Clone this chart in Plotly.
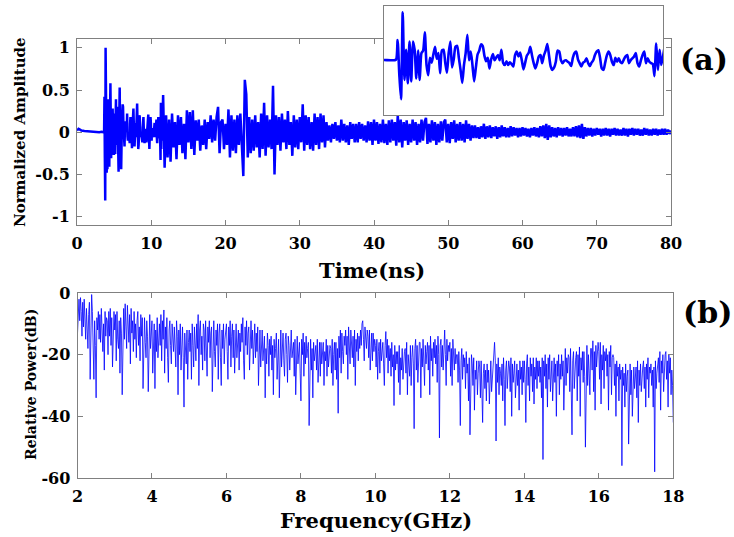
import numpy as np
import plotly.graph_objects as go

# ---------------- (a) time-domain waveform ----------------
# quiet lead-in before the pulse arrives
onset_t = [0.0, 0.2, 0.4, 0.6, 1.0, 1.5, 2.0, 2.5, 3.0, 3.3, 3.5, 3.65]
onset_v = [0.02, 0.04, 0.03, 0.02, 0.015, 0.01, 0.01, 0.005, 0.0, 0.005, 0.0, 0.01]

# main burst, sampled every 0.05 ns from 3.70 ns
burst_t0, burst_dt = 3.70, 0.05
burst_v = [
    0.42, -0.3, -0.81, 1.0, -0.41, 0.22, -0.48, 0.39, -0.44, 0.39,
    0.22, -0.38, 0.2, -0.41, 0.15, 0.2, 0.58, -0.1, -0.31, 0.05,
    -0.05, 0.12, 0.28, 0.03, 0.15, -0.27, 0.2, 0.22, -0.05, -0.26,
    0.15, 0.39, -0.15, 0.02, 0.28, 0.3, 0.05, -0.2, -0.47, -0.1,
    0.15, 0.53, 0.0, 0.18, -0.1, -0.44, -0.15, 0.12, 0.2, 0.33,
    0.3, 0.1, -0.02, 0.05, -0.17, 0.02, 0.13, 0.0, 0.06, 0.11,
    0.0, 0.22, -0.05, -0.1, -0.02, -0.1, -0.04, -0.08, -0.13, 0.1,
    0.18, 0.08, 0.16, 0.0, -0.19, -0.05, 0.1, 0.15, 0.28, 0.1,
    -0.06, -0.17, -0.06, 0.08, 0.11, -0.06, 0.1, 0.2, 0.34, 0.1,
    -0.13, -0.2, -0.15, -0.03, 0.2, 0.18, 0.0, -0.06, -0.01, 0.0,
    -0.03, -0.06, -0.12, 0.05, 0.15, 0.18, 0.02, -0.06, -0.13, -0.05,
    -0.03, 0.04, -0.06, -0.12, -0.05, 0.0, 0.11, 0.18, 0.21, 0.05,
    -0.17, -0.2, -0.05, 0.1, 0.18, 0.11, -0.03, -0.1, 0.05, -0.03,
    0.04, -0.04, -0.06, 0.02, 0.08, 0.11, -0.06, 0.0, 0.04, 0.08,
    0.15, -0.06, -0.13, 0.0, 0.11, 0.18, -0.06, 0.04, -0.03, -0.06,
    -0.08, -0.33, 0.35, -0.2, 0.22, -0.1,
]

# decaying tail, sampled every 0.2 ns from 11.6 ns to 80 ns
tail_t0, tail_dt = 11.6, 0.2
tail_v = [
    0.44, -0.42, 0.2, -0.3, 0.15, -0.35, 0.22, -0.18, 0.12, -0.32,
    0.2, -0.15, 0.18, -0.25, 0.1, -0.32, 0.26, -0.12, 0.24, -0.2,
    0.26, -0.27, 0.14, -0.1, 0.15, -0.22, 0.08, -0.15, 0.15, -0.2,
    0.12, -0.08, 0.2, -0.12, 0.15, -0.1, 0.18, 0.3, -0.25, 0.12,
    0.15, -0.2, 0.1, -0.15, 0.27, -0.3, 0.2, -0.22, 0.15, -0.25,
    0.2, -0.15, 0.22, -0.25, -0.52, 0.62, 0.45, -0.3, 0.18, -0.25,
    0.15, -0.22, 0.2, -0.18, 0.12, -0.3, 0.22, -0.2, 0.35, -0.28,
    0.2, -0.18, 0.15, -0.2, 0.55, -0.5, 0.2, -0.15, 0.18, -0.22,
    0.22, -0.12, 0.15, -0.2, 0.25, -0.15, 0.12, -0.28, 0.2, -0.18,
    0.15, -0.2, 0.18, -0.12, 0.33, -0.22, 0.2, -0.15, 0.18, -0.2,
    0.12, -0.22, 0.22, -0.15, 0.18, -0.2, 0.22, -0.12, 0.2, -0.18,
    0.12, -0.1, 0.08, -0.12, 0.1, -0.08, 0.12, -0.1, 0.08, -0.12,
    0.15, -0.1, 0.1, -0.12, 0.08, -0.15, 0.12, -0.08, 0.1, -0.12,
    0.1, -0.12, 0.12, -0.08, 0.1, -0.1, 0.08, -0.12, 0.13, -0.1,
    0.12, -0.15, 0.15, -0.1, 0.12, -0.14, 0.1, -0.12, 0.15, -0.13,
    0.1, -0.15, 0.14, -0.12, 0.15, -0.1, 0.12, -0.16, 0.2, -0.12,
    0.15, -0.18, 0.12, -0.1, 0.14, -0.15, 0.1, -0.12, 0.15, -0.1,
    0.12, -0.15, 0.1, -0.12, 0.15, -0.1, 0.12, 0.17, -0.14, 0.1,
    -0.12, 0.14, -0.1, 0.12, -0.15, 0.1, -0.12, 0.13, -0.1, 0.12,
    0.15, -0.12, 0.1, -0.13, 0.12, -0.08, 0.14, -0.12, 0.1, -0.1,
    0.12, -0.1, 0.1, -0.12, 0.14, -0.08, 0.1, -0.1, 0.08, -0.07,
    0.08, -0.07, 0.06, -0.08, 0.07, -0.06, 0.1, -0.08, 0.07, -0.06,
    0.08, -0.07, 0.06, -0.05, 0.07, -0.08, 0.06, -0.06, 0.08, -0.05,
    0.06, -0.06, 0.05, -0.06, 0.07, -0.05, 0.06, -0.04, 0.05, -0.06,
    0.05, -0.05, 0.06, -0.04, 0.05, -0.05, 0.04, -0.06, 0.05, -0.04,
    0.06, -0.05, 0.05, -0.06, 0.07, -0.05, 0.08, -0.07, 0.1, -0.09,
    0.08, -0.06, 0.06, -0.05, 0.05, -0.06, 0.06, -0.04, 0.05, -0.05,
    0.05, -0.04, 0.06, -0.05, 0.04, -0.05, 0.06, -0.05, 0.07, -0.06,
    0.08, -0.07, 0.1, -0.08, 0.06, -0.05, 0.05, -0.04, 0.05, -0.05,
    0.04, -0.04, 0.05, -0.03, 0.04, -0.05, 0.04, -0.04, 0.05, -0.04,
    0.04, -0.05, 0.04, -0.03, 0.05, -0.04, 0.04, -0.04, 0.03, -0.04,
    0.05, -0.04, 0.04, -0.05, 0.04, -0.03, 0.05, -0.04, 0.04, -0.03,
    0.04, -0.04, 0.03, -0.04, 0.05, -0.03, 0.04, -0.04, 0.03, -0.04,
    0.04, -0.03, 0.04, -0.04, 0.03, -0.03, 0.04, -0.03, 0.04, -0.03,
    0.03, -0.02, 0.02,
]

time_ticks = [0, 10, 20, 30, 40, 50, 60, 70, 80]
amp_ticks = [-1, -0.5, 0, 0.5, 1]
amp_labels = ["-1", "-0.5", "0", "0.5", "1"]

# ---------------- (b) power spectrum, 0.02 GHz bins from 2 GHz ----------------
freq_t0, freq_df = 2.0, 0.02
power_db = [
    -13, -4, -2, -9, -1.5, -6, -14, -3, -11, -2,
    -8, -15, -5, -12, -18, -7, -3, -28, -2, -0.5,
    -6, -14, -28, -9, -17, -34, -8, -12, -6, -15,
    -7, -16, -5, -12, -19, -10, -25, -6, -14, -8,
    -9, -20, -6, -14, -5, -17, -8, -24, -11, -6,
    -12, -7, -22, -6, -15, -18, -9, -26, -8, -13,
    -33, -9, -5, -15, -3.5, -11, -18, -4, -13, -16,
    -7, -23, -5, -13, -9, -19, -6, -15, -10, -21,
    -9, -6, -17, -11, -22, -7, -14, -8, -31, -12,
    -8, -16, -21, -9, -14, -32, -10, -7, -18, -13,
    -9, -26, -15, -10, -31, -12, -19, -8, -21, -14,
    -10, -17, -7, -22, -9, -15, -5.5, -26, -11, -18,
    -8, -21, -29, -12, -9, -17, -23, -10, -15, -19,
    -11, -16, -24, -9, -14, -33, -12, -20, -10, -25,
    -14, -11, -21, -37, -13, -18, -23, -12, -28, -16,
    -12, -19, -13, -28, -10, -17, -24, -11, -15, -22,
    -10, -18, -7, -30, -12, -9, -20, -14, -25, -10,
    -12, -22, -9, -17, -27, -11, -16, -9, -21, -13,
    -11, -32, -15, -9, -19, -24, -12, -17, -10, -28,
    -13, -10, -21, -30, -12, -18, -10, -23, -15, -13,
    -10, -19, -28, -11, -17, -9, -24, -14, -10, -21,
    -12, -26, -15, -10, -21, -16, -12, -25, -13, -19,
    -10, -16, -8, -22, -28, -11, -17, -9, -20, -13,
    -11, -25, -14, -9, -18, -12, -23, -15, -10, -21,
    -13, -19, -11, -30, -16, -12, -24, -14, -12, -22,
    -15, -14, -34, -18, -23, -13, -17, -27, -15, -20,
    -14, -25, -17, -33, -15, -21, -18, -13, -28, -16,
    -15, -34, -18, -12, -24, -16, -13, -22, -27, -15,
    -13, -20, -29, -14, -17, -25, -15, -12, -21, -18,
    -16, -27, -15, -33, -19, -14, -23, -17, -16, -26,
    -35, -15, -20, -13, -27, -16, -23, -14, -21, -18,
    -16, -43, -21, -15, -25, -18, -34, -16, -22, -19,
    -17, -25, -15, -29, -20, -16, -27, -16, -23, -19,
    -16, -30, -19, -22, -15, -27, -17, -24, -20, -17,
    -18, -26, -15, -30, -20, -16, -25, -16, -28, -18,
    -39, -14, -21, -12, -26, -13, -19, -23, -14, -17,
    -12, -20, -14, -28, -11, -17, -23, -12, -16, -21,
    -14, -24, -12, -30, -15, -19, -13, -22, -14, -18,
    -12, -17, -10, -9, -15, -22, -11, -14, -18, -12,
    -14, -21, -12, -25, -16, -13, -22, -13, -19, -15,
    -17, -24, -15, -28, -19, -16, -26, -15, -22, -18,
    -16, -23, -30, -17, -12.5, -21, -15, -26, -17, -22,
    -18, -27, -16, -24, -20, -36.5, -17, -25, -19, -23,
    -19, -29, -17, -33, -21, -25, -18, -28, -22, -19,
    -18, -26, -16, -33, -20, -23, -27, -17, -30, -21,
    -17, -23, -44, -18, -15, -25, -17, -29, -20, -16,
    -16, -34, -18, -24, -15, -21, -30, -17, -23, -19,
    -16, -25, -17, -33, -14, -22, -18, -27, -16, -21,
    -15, -23, -17, -29, -14, -20, -47, -17, -15, -24,
    -17, -25, -15, -12, -20, -30, -15, -22, -17, -19,
    -16, -27, -18, -30, -15, -22, -25, -18, -23, -20,
    -20, -29, -19, -25, -43, -22, -18, -28, -20, -24,
    -21, -31, -19, -26, -23, -35, -21, -46, -24, -20,
    -23, -30, -21, -38, -25, -28, -22, -33, -26, -22,
    -24, -34, -22, -29, -42, -26, -23, -31, -25, -35,
    -23, -29, -25, -36, -24, -22, -32, -27, -24, -19,
    -16, -22, -48, -23, -29, -21, -33, -24, -26, -30,
    -23, -35, -21, -28, -43, -25, -22, -31, -26, -22,
    -24, -32, -21, -40, -23, -29, -26, -22, -34, -24,
    -23, -30, -25, -38, -22, -28, -24, -33, -22, -29,
    -22, -28, -42, -23, -20, -30, -24, -35, -21, -27,
    -23, -32, -21, -36, -24, -28, -21, -31, -22, -27,
    -22, -29, -24, -34, -21, -54, -22, -27, -20, -31,
    -23, -37, -21, -28, -20, -32, -24, -22, -35, -22,
    -21, -29, -23, -40, -22, -27, -20, -33, -23, -28,
    -20, -27, -22, -38, -19, -18, -30, -21, -26, -20,
    -21, -32, -18, -28, -46, -22, -19, -31, -23, -21,
    -19, -35, -20, -27, -17.5, -40, -21, -25, -19, -29,
    -19, -27, -50, -21, -17, -30, -20, -26, -33, -18,
    -18, -25, -15.5, -32, -19, -38, -17, -24, -20, -16,
    -19, -28, -16, -36, -20, -25, -17, -31, -19, -22,
    -18, -27, -20, -38, -19, -24, -17, -33, -21, -20,
    -21, -30, -23, -40, -22, -27, -24, -35, -23, -28,
    -25, -56, -24, -30, -26, -37, -23, -32, -27, -25,
    -49, -27, -23, -33, -25, -40, -28, -24, -31, -26,
    -24, -34, -22, -42, -25, -30, -23, -32, -26, -24,
    -22, -31, -24, -37, -23, -28, -21, -34, -24, -26,
    -23, -30, -25, -37, -24, -58, -22, -31, -26, -24,
    -21, -29, -19, -38, -22, -26, -20, -32, -23, -20,
    -19, -28, -22, -37, -20, -26, -21, -33, -25, -30,
    -42,
]

freq_ticks = [2, 4, 6, 8, 10, 12, 14, 16, 18]
power_ticks = [-60, -40, -20, 0]
power_labels = ["-60", "-40", "-20", "0"]

# ---------------- assemble series ----------------
burst_t = burst_t0 + burst_dt * np.arange(len(burst_v))
tail_t = tail_t0 + tail_dt * np.arange(len(tail_v))
time_ns = np.concatenate([onset_t, burst_t, tail_t])
amplitude = np.concatenate([onset_v, burst_v, tail_v])
freq_ghz = freq_t0 + freq_df * np.arange(len(power_db))

W, H = 734, 537
BLUE = "#0000ff"
GRID = "#808080"
FONT = "DejaVu Serif"


def px_x(v):
    return v / W


def px_y(v):
    return 1 - v / H


fig = go.Figure()
fig.add_trace(go.Scatter(x=time_ns, y=amplitude, mode="lines",
                         line=dict(color=BLUE, width=2.5),
                         xaxis="x", yaxis="y", showlegend=False))
fig.add_trace(go.Scatter(x=freq_ghz, y=power_db, mode="lines",
                         line=dict(color=BLUE, width=0.8),
                         xaxis="x2", yaxis="y2", showlegend=False))
# magnified view of the pulse onset
fig.add_trace(go.Scatter(x=time_ns, y=amplitude, mode="lines",
                         line=dict(color=BLUE, width=2.6, shape="spline", smoothing=0.6),
                         xaxis="x3", yaxis="y3", showlegend=False))

tick_font = dict(family=FONT, size=16, color="black", weight="bold")
frame = dict(showline=True, linecolor=GRID, linewidth=1, mirror="ticks",
             ticks="inside", ticklen=5, tickcolor=GRID, tickwidth=1,
             showgrid=False, zeroline=False, tickfont=tick_font,
             automargin=False)
bare = dict(showline=True, linecolor=GRID, linewidth=1, mirror=True,
            showticklabels=False, ticks="", showgrid=False, zeroline=False,
            automargin=False)

fig.update_layout(
    template="none",
    width=W, height=H,
    margin=dict(l=0, r=0, t=0, b=0, pad=0),
    paper_bgcolor="white", plot_bgcolor="white",
    showlegend=False,
    xaxis=dict(frame, domain=[px_x(77), px_x(671)], range=[0, 80],
               tickvals=time_ticks, anchor="y", ticklabelstandoff=4),
    yaxis=dict(frame, domain=[px_y(225), px_y(39.4)], range=[-1.1, 1.1],
               tickvals=amp_ticks, ticktext=amp_labels, anchor="x",
               ticklabelstandoff=3),
    xaxis2=dict(frame, domain=[px_x(77.5), px_x(673.3)], range=[2, 18],
                tickvals=freq_ticks, anchor="y2", ticklabelstandoff=4),
    yaxis2=dict(frame, domain=[px_y(478), px_y(293)], range=[-60, 0],
                tickvals=power_ticks, ticktext=power_labels, anchor="x2",
                ticklabelstandoff=3),
    xaxis3=dict(bare, domain=[px_x(384), px_x(663)], range=[3.3, 11.5], anchor="y3"),
    yaxis3=dict(bare, domain=[px_y(115), px_y(6)], range=[-1.14, 1.13], anchor="x3"),
)


def label(text, x, y, size, angle=0):
    fig.add_annotation(text=text, x=px_x(x), y=px_y(y), xref="paper", yref="paper",
                       xanchor="center", yanchor="middle", showarrow=False,
                       textangle=angle,
                       font=dict(family=FONT, size=size, color="black", weight="bold"))


label("Time(ns)", 372, 270, 21)
label("Frequency(GHz)", 376, 520, 21)
label("Normalized Amplitude", 20, 132, 15, -90)
label("Relative Power(dB)", 31, 385, 14, -90)
label("(a)", 704, 60, 30)
label("(b)", 707, 312, 30)

fig.write_html("out.html")
